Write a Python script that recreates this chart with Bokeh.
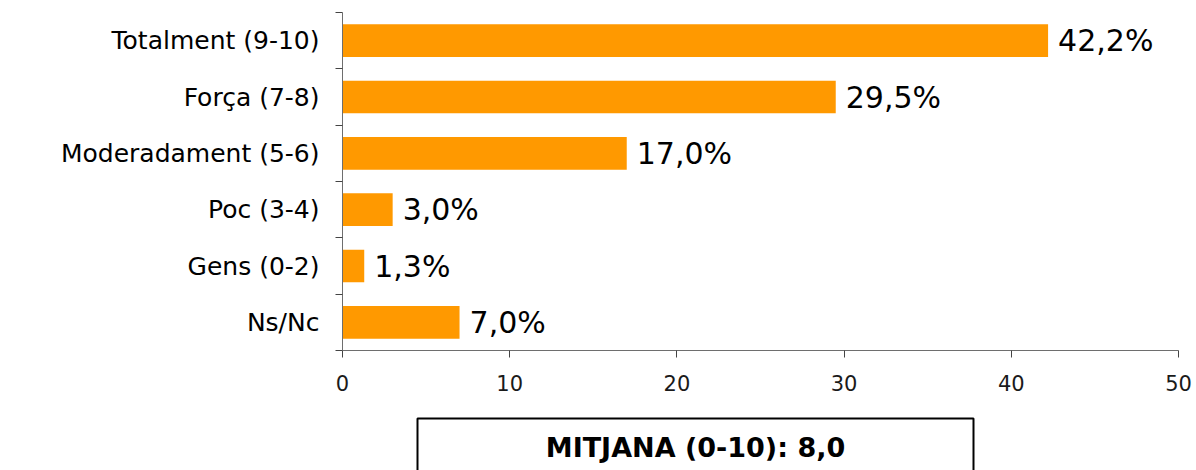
from bokeh.plotting import figure
from bokeh.models import ColumnDataSource, FixedTicker, Range1d
from bokeh.layouts import column
from bokeh.embed import file_html
from bokeh.resources import INLINE
from bokeh.core.properties import value

categories = ["Totalment (9-10)", "Força (7-8)", "Moderadament (5-6)", "Poc (3-4)", "Gens (0-2)", "Ns/Nc"]
values = [42.2, 29.5, 17.0, 3.0, 1.3, 7.0]
x_ticks = [0, 10, 20, 30, 40, 50]
summary_text = "MITJANA (0-10): 8,0"

FONT = "DejaVu Sans"
n = len(categories)
ypos = [n - 0.5 - i for i in range(n)]
labels = [f"{v:.1f}".replace(".", ",") + "%" for v in values]

src = ColumnDataSource(dict(y=ypos, v=values, lab=labels, cat=categories))

p = figure(width=1196, height=408, output_backend="svg", toolbar_location=None,
           x_range=Range1d(0, 50), y_range=Range1d(0, n),
           min_border_left=342, min_border_right=18, min_border_top=12, min_border_bottom=58)
p.outline_line_color = None
p.xgrid.visible = False
p.ygrid.visible = False

p.hbar(y="y", right="v", left=0, height=0.58, source=src, fill_color="#FF9900", line_color=None)
p.text(x="v", y="y", text="lab", source=src, x_offset=10, text_align="left", text_baseline="middle",
       text_font=value(FONT), text_font_size="30px", text_color="#000000")

xa = p.xaxis[0]
xa.ticker = FixedTicker(ticks=x_ticks, minor_ticks=[])
xa.major_tick_out = 7
xa.major_tick_in = 0
xa.minor_tick_out = 0
xa.axis_line_color = "#6e6e6e"
xa.major_tick_line_color = "#444444"
xa.major_label_text_font = FONT
xa.major_label_text_font_size = "21px"
xa.major_label_text_color = "#1a1a1a"
xa.major_label_standoff = 17

ya = p.yaxis[0]
ya.ticker = FixedTicker(ticks=ypos, minor_ticks=list(range(n + 1)))
ya.major_label_overrides = {y: c for y, c in zip(ypos, categories)}
ya.major_tick_line_color = None
ya.major_tick_out = 0
ya.major_tick_in = 0
ya.minor_tick_out = 7
ya.minor_tick_in = 0
ya.minor_tick_line_color = "#444444"
ya.axis_line_color = "#6e6e6e"
ya.major_label_text_font = FONT
ya.major_label_text_font_size = "25px"
ya.major_label_text_color = "#000000"
ya.major_label_standoff = 16

# summary box (data units = page pixels)
q = figure(width=1196, height=62, output_backend="svg", toolbar_location=None,
           x_range=Range1d(342, 1178), y_range=Range1d(62, 0),
           min_border_left=342, min_border_right=18, min_border_top=0, min_border_bottom=0,
           x_axis_location=None, y_axis_location=None)
q.outline_line_color = None
q.xgrid.visible = False
q.ygrid.visible = False
q.quad(left=[417], right=[973], top=[10], bottom=[80], fill_color=None, line_color="#000000", line_width=2)
q.text(x=[695], y=[39], text=[summary_text], text_align="center", text_baseline="middle",
       text_font=value(FONT), text_font_size="27px", text_font_style="bold", text_color="#000000")

layout = column(p, q, spacing=0)
open("out.html", "w").write(file_html(layout, INLINE))
